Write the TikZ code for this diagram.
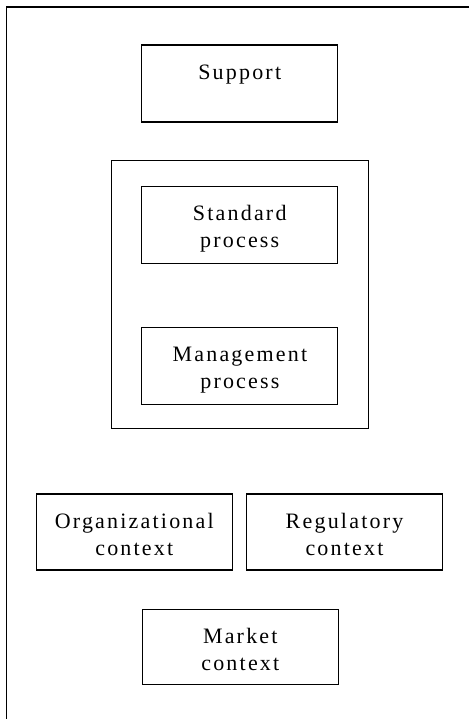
\documentclass[tikz,border=0pt]{standalone}
\usepackage{fontspec}
\setmainfont{Liberation Serif}[LetterSpace=10]
\begin{document}
\begin{tikzpicture}[x=1pt,y=-1pt,
  line/.style={line width=1.1pt},
  box/.style={draw, line, rectangle, inner sep=0pt, outer sep=0pt,
    minimum width=196pt, text height=34.5pt, text depth=42.5pt,
    align=center, anchor=north west,
    font=\fontsize{22}{26.5}\selectfont},
  twoline/.style={box, text height=61pt, text depth=16pt},
  groupbox/.style={draw, line, rectangle, inner sep=0pt, outer sep=0pt, anchor=north west}]
\useasboundingbox (0,0) rectangle (469,719);
\coordinate (ftr) at (469,7);
\coordinate (ftl) at (6.5,7);
\coordinate (fbl) at (6.5,719);
\draw[line] (ftr) -- (ftl) -- (fbl);
\node[box] (support) at (141.7,45) {Support};
\node[groupbox, minimum width=257pt, minimum height=268.4pt] (group) at (111.3,160.3) {};
\node[twoline] (standard) at (141.7,186.3) {Standard\\process};
\node[twoline] (management) at (141.9,327.3) {Management\\process};
\node[twoline, text depth=15pt] (org) at (36.3,494) {Organizational\\context};
\node[twoline, text depth=15pt] (reg) at (246.5,494) {Regulatory\\context};
\node[twoline, text depth=14.5pt] (market) at (142.3,609.3) {Market\\context};
\end{tikzpicture}
\end{document}
